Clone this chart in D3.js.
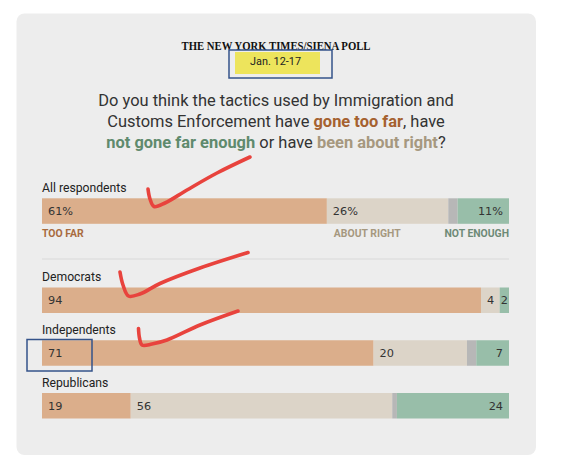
<!DOCTYPE html>
<html>
<head>
<meta charset="utf-8">
<script src="https://cdn.jsdelivr.net/npm/d3@7"></script>
<style>
  body { margin: 0; background: #fff; }
  svg { display: block; }
</style>
</head>
<body>
<svg id="chart" width="567" height="466"></svg>
<script>
/* poll values */
const groups = ["All respondents", "Democrats", "Independents", "Republicans"];
const tooFar = [61, 94, 71, 19];
const aboutRight = [26, 4, 20, 56];
const notEnough = [11, 2, 7, 24];
const categoryLabels = ["TOO FAR", "ABOUT RIGHT", "NOT ENOUGH"];

const COLORS = {
  tooFar: "#dbae8b",
  aboutRight: "#dcd4c8",
  noAnswer: "#b7b7b7",
  notEnough: "#98bea9"
};
const TEXT_COLORS = {
  tooFar: "#a5612f",
  aboutRight: "#a6987f",
  notEnough: "#5f8a6d"
};

// build the stack table; whatever is left of 100 is the grey "no answer" sliver
const table = groups.map((g, i) => ({
  group: g,
  tooFar: tooFar[i],
  aboutRight: aboutRight[i],
  noAnswer: Math.max(0, 100 - tooFar[i] - aboutRight[i] - notEnough[i]),
  notEnough: notEnough[i]
}));
const keys = ["tooFar", "aboutRight", "noAnswer", "notEnough"];
const series = d3.stack().keys(keys)(table);

const svg = d3.select("#chart");
const sans = "Roboto, 'Noto Sans', sans-serif";

// card
svg.append("rect")
  .attr("x", 16.5).attr("y", 13.5)
  .attr("width", 519.5).attr("height", 441.5)
  .attr("rx", 8)
  .attr("fill", "#ededed");

const cx = 276;

// header
svg.append("text")
  .attr("x", cx).attr("y", 49.5)
  .attr("text-anchor", "middle")
  .attr("font-family", "'Liberation Serif', 'DejaVu Serif', serif")
  .attr("font-weight", "bold")
  .attr("font-size", 12.5)
  .attr("textLength", 189)
  .attr("lengthAdjust", "spacingAndGlyphs")
  .attr("fill", "#111")
  .text("THE NEW YORK TIMES/SIENA POLL");

// yellow highlight behind the date
svg.append("rect")
  .attr("x", 235).attr("y", 52)
  .attr("width", 85).attr("height", 22)
  .attr("fill", "#ede45c");

svg.append("text")
  .attr("x", 275.5).attr("y", 65)
  .attr("text-anchor", "middle")
  .attr("font-family", sans)
  .attr("font-size", 10.8)
  .attr("textLength", 51)
  .attr("lengthAdjust", "spacingAndGlyphs")
  .attr("fill", "#222")
  .text("Jan. 12-17");

// question: each coloured phrase is its own text, laid out side by side
const question = [
  { y: 106, parts: [["Do you think the tactics used by Immigration and", null]] },
  { y: 127, parts: [["Customs Enforcement have", null], ["gone too far", "tooFar"], [", have", null]] },
  { y: 147.5, parts: [["not gone far enough", "notEnough"], ["or have", null], ["been about right", "aboutRight"], ["?", null]] }
];
const firstLineWidth = 356;
let qSize = 17;

function drawLine(line, size) {
  const g = svg.append("g");
  const items = line.parts.map(([str, key]) => g.append("text")
    .attr("y", line.y)
    .attr("font-family", sans)
    .attr("font-size", size)
    .attr("font-weight", key ? "bold" : null)
    .attr("fill", key ? TEXT_COLORS[key] : "#333")
    .text(str));
  const space = size * 0.25;
  const widths = items.map(t => t.node().getComputedTextLength());
  // no space before a comma or question mark
  const gaps = line.parts.map(([str], i) => (i === 0 || /^[,?]/.test(str)) ? 0 : space);
  const total = d3.sum(widths) + d3.sum(gaps);
  let pos = cx - total / 2;
  items.forEach((t, i) => {
    pos += gaps[i];
    t.attr("x", pos);
    pos += widths[i];
  });
  return { g, total };
}

// size the question so the first line spans what the reference shows
const probe = drawLine(question[0], qSize);
qSize = qSize * firstLineWidth / probe.total;
probe.g.remove();
question.forEach(line => drawLine(line, qSize));

// scales
const x = d3.scaleLinear().domain([0, 100]).range([42, 509]);
const barH = 25.5;
const partyY = d3.scalePoint().domain(groups.slice(1)).range([287.5, 393]);
const yTop = g => (g === groups[0] ? 198.3 : partyY(g));

// group labels
svg.append("g").selectAll("text")
  .data(groups)
  .join("text")
  .attr("x", x(0))
  .attr("y", d => yTop(d) - 6.5)
  .attr("font-family", sans)
  .attr("font-size", 12.2)
  .attr("fill", "#222")
  .text(d => d);

// bars
const layer = svg.append("g").selectAll("g")
  .data(series)
  .join("g")
  .attr("fill", d => COLORS[d.key]);

layer.selectAll("rect")
  .data(d => d)
  .join("rect")
  .attr("x", d => x(d[0]))
  .attr("y", d => yTop(d.data.group))
  .attr("width", d => x(d[1]) - x(d[0]))
  .attr("height", barH);

// value labels
const labelled = series.filter(s => s.key !== "noAnswer");
labelled.forEach(s => {
  svg.append("g").selectAll("text")
    .data(s)
    .join("text")
    .attr("font-family", "'DejaVu Sans', sans-serif")
    .attr("font-size", 11.3)
    .attr("fill", "#333")
    .attr("y", d => yTop(d.data.group) + barH / 2 + 4)
    .each(function (d) {
      const w = x(d[1]) - x(d[0]);
      const el = d3.select(this);
      if (s.key === "notEnough") {
        if (w < 20) el.attr("x", (x(d[0]) + x(d[1])) / 2).attr("text-anchor", "middle");
        else el.attr("x", x(d[1]) - 6).attr("text-anchor", "end");
      } else {
        el.attr("x", x(d[0]) + 6).attr("text-anchor", "start");
      }
    })
    .text(d => {
      const v = d.data[s.key];
      return d.data.group === groups[0] ? v + "%" : v;
    });
});

// category legend under the first bar
const first = series.map(s => s[0]);
const legendY = yTop(groups[0]) + barH + 13.4;
const legend = [
  { label: categoryLabels[0], key: "tooFar", x: x(first[0][0]), anchor: "start" },
  { label: categoryLabels[1], key: "aboutRight", x: x(first[1][0]) + 7, anchor: "start" },
  { label: categoryLabels[2], key: "notEnough", x: x(first[3][1]), anchor: "end" }
];
svg.append("g").selectAll("text")
  .data(legend)
  .join("text")
  .attr("x", d => d.x)
  .attr("y", legendY)
  .attr("text-anchor", d => d.anchor)
  .attr("font-family", sans)
  .attr("font-weight", "bold")
  .attr("font-size", 10.4)
  .attr("fill", d => d.key === "tooFar" ? "#a86b3f" : d.key === "aboutRight" ? "#a6987f" : "#6d8a77")
  .text(d => d.label);

// separator between total and party rows
svg.append("line")
  .attr("x1", x(0)).attr("x2", x(100))
  .attr("y1", 259).attr("y2", 259)
  .attr("stroke", "#d9d9d9")
  .attr("stroke-width", 1);

/* hand-drawn annotations on top of the chart */
const boxes = [
  { x: 229, y: 50, w: 103, h: 28 },
  { x: 27, y: 339.5, w: 65, h: 31.5 }
];
svg.append("g").selectAll("rect")
  .data(boxes)
  .join("rect")
  .attr("x", d => d.x).attr("y", d => d.y)
  .attr("width", d => d.w).attr("height", d => d.h)
  .attr("fill", "none")
  .attr("stroke", "#34538a")
  .attr("stroke-width", 1.5);

const ticks = [
  [[148, 189], [150, 199], [154, 206.5], [165, 203], [187, 190], [217, 173], [250, 157]],
  [[120, 272], [123, 285], [128.5, 296], [140, 294], [160, 283.5], [200, 268], [248, 252.5]],
  [[138.5, 328.5], [139.5, 338], [142, 345], [152, 344], [167, 340], [200, 325], [238, 311]]
];
const pen = d3.line().curve(d3.curveCatmullRom.alpha(0.5));
svg.append("g").selectAll("path")
  .data(ticks)
  .join("path")
  .attr("d", pen)
  .attr("fill", "none")
  .attr("stroke", "#e8433d")
  .attr("stroke-width", 3.6)
  .attr("stroke-linecap", "round")
  .attr("stroke-linejoin", "round");
</script>
</body>
</html>
